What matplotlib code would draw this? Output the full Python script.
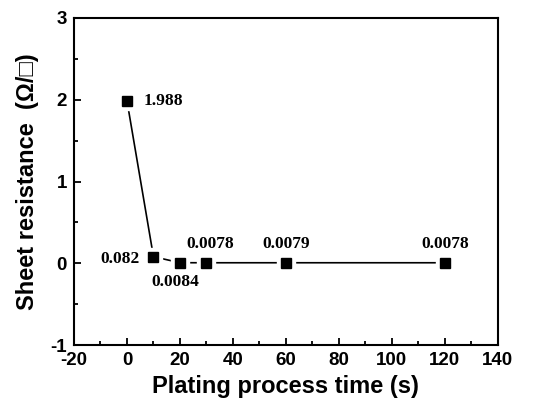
import matplotlib
matplotlib.use('Agg')
import matplotlib.pyplot as plt
from matplotlib.ticker import MultipleLocator

# plating time (s) and sheet resistance (ohm/sq)
time_s = [0, 10, 20, 30, 60, 120]
resistance = [1.988, 0.082, 0.0084, 0.0078, 0.0079, 0.0078]
labels = ['1.988', '0.082', '0.0084', '0.0078', '0.0079', '0.0078']
# where each label sits relative to its point (dx pts, dy pts, ha, va)
offsets = [(12, 0, 'left', 'center'), (-10, -2, 'right', 'center'),
           (-3, -8, 'center', 'top'), (3, 8, 'center', 'bottom'),
           (0, 8, 'center', 'bottom'), (0, 8, 'center', 'bottom')]

plt.rcParams['font.family'] = ['Liberation Sans', 'DejaVu Sans']
plt.rcParams['font.weight'] = 'bold'
plt.rcParams['axes.unicode_minus'] = False

fig = plt.figure(figsize=(5.4, 4), dpi=100)
ax = fig.add_axes([0.137, 0.137, 0.785, 0.818])

ax.plot(time_s, resistance, color='black', lw=1.2, zorder=1)
ax.plot(time_s, resistance, 's', ms=13, color='white', zorder=2)
ax.plot(time_s, resistance, 's', ms=7.5, color='black', zorder=3)

for x, y, t, (dx, dy, ha, va) in zip(time_s, resistance, labels, offsets):
    ax.annotate(t, (x, y), xytext=(dx, dy), textcoords='offset points',
                ha=ha, va=va, fontsize=12.5, fontweight='bold',
                family='Liberation Serif')

ax.set_xlim(-20, 140)
ax.set_ylim(-1, 3)
ax.xaxis.set_major_locator(MultipleLocator(20))
ax.xaxis.set_minor_locator(MultipleLocator(10))
ax.yaxis.set_major_locator(MultipleLocator(1))
ax.yaxis.set_minor_locator(MultipleLocator(0.5))
ax.tick_params(which='both', direction='in', width=1.3, labelsize=13.5)
ax.tick_params(which='major', length=5, pad=5)
ax.tick_params(which='minor', length=3)
for s in ax.spines.values():
    s.set_linewidth(1.5)

ax.set_xlabel('Plating process time (s)', fontsize=17, fontweight='bold',
              labelpad=4)
ax.set_ylabel('Sheet resistance  (Ω/□)', fontsize=17, fontweight='bold',
              labelpad=8)

fig.savefig('out.png', dpi=100)
